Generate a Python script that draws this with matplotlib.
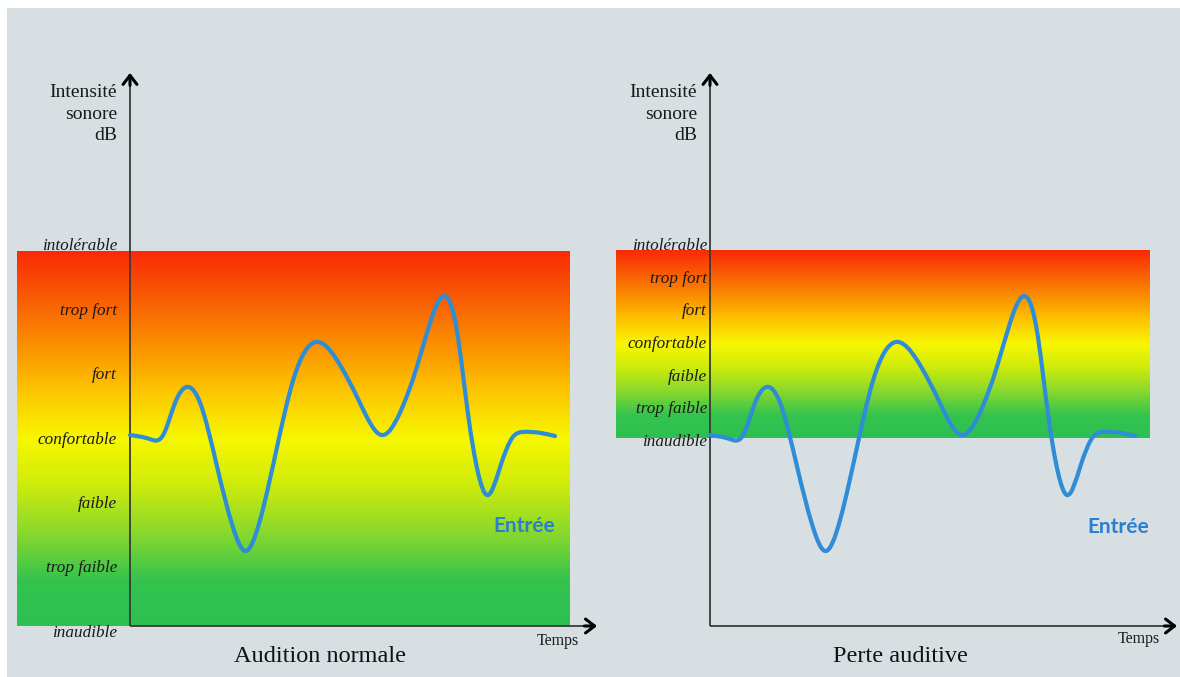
import numpy as np
import matplotlib
matplotlib.use("Agg")
import matplotlib.pyplot as plt
from matplotlib.colors import LinearSegmentedColormap
from matplotlib.patches import Rectangle, PathPatch
from matplotlib.path import Path

# ---------------- data ----------------
# input signal (time units, intensity in dB-like units)
signal_t = [0.0, 0.47, 0.78, 1.06, 1.34, 1.65, 2.05, 2.42, 2.71, 3.06, 3.46, 3.84,
            4.38, 4.87, 5.41, 5.93, 6.35, 6.75, 7.06, 7.34, 7.69, 7.95, 8.19, 8.40,
            8.71, 9.01, 9.25, 9.65, 10.0]
signal_db = [61.1, 59.8, 61.1, 71.4, 76.5, 71.4, 50.9, 31.7, 24.0, 33.9, 57.3, 78.7,
             90.9, 85.1, 71.4, 61.1, 68.2, 82.9, 97.0, 105.3, 94.7, 68.2, 49.0, 41.9,
             50.9, 60.5, 62.1, 61.8, 60.8]

levels = ["inaudible", "trop faible", "faible", "confortable", "fort", "trop fort", "intolérable"]
zone_normal = (0, 120)     # perception zone, normal hearing
zone_loss = (60, 120)      # perception zone, hearing loss
titles = ["Audition normale", "Perte auditive"]

# ---------------- style ----------------
W, H = 1180, 677
BG = "#d7dfe2"
CURVE = "#2f8cd6"
TXT_BLUE = "#2b7fd2"
SERIF = ["Liberation Serif", "DejaVu Serif"]

grad_cmap = LinearSegmentedColormap.from_list("zone", [
    (0.00, "#2dc052"), (0.12, "#34c34e"), (0.25, "#8ad92c"), (0.38, "#d0ec0a"),
    (0.50, "#f7f700"), (0.62, "#fdc800"), (0.75, "#fb9000"), (0.88, "#f85a04"),
    (1.00, "#fa2a06")])

fig = plt.figure(figsize=(W / 100, H / 100), dpi=100)
fig.patch.set_facecolor("white")
fig.patches.append(Rectangle((7 / W, 0), 1 - 7 / W, (H - 8) / H,
                             transform=fig.transFigure, facecolor=BG,
                             edgecolor="none", zorder=-10))


def smooth_path(x, y):
    """Natural cubic spline through the read points, drawn as Bezier segments."""
    x = np.asarray(x, float)
    y = np.asarray(y, float)
    n = len(x)
    h = np.diff(x)
    A = np.zeros((n, n))
    r = np.zeros(n)
    A[0, 0] = A[-1, -1] = 1.0
    for i in range(1, n - 1):
        A[i, i - 1] = h[i - 1]
        A[i, i] = 2 * (h[i - 1] + h[i])
        A[i, i + 1] = h[i]
        r[i] = 6 * ((y[i + 1] - y[i]) / h[i] - (y[i] - y[i - 1]) / h[i - 1])
    M = np.linalg.solve(A, r)
    m = np.zeros(n)
    for i in range(n - 1):
        m[i] = (y[i + 1] - y[i]) / h[i] - h[i] * (2 * M[i] + M[i + 1]) / 6
    m[-1] = (y[-1] - y[-2]) / h[-1] + h[-1] * (M[-2] + 2 * M[-1]) / 6
    verts = [(x[0], y[0])]
    codes = [Path.MOVETO]
    for i in range(n - 1):
        dx = h[i]
        verts += [(x[i] + dx / 3, y[i] + m[i] * dx / 3),
                  (x[i + 1] - dx / 3, y[i + 1] - m[i + 1] * dx / 3),
                  (x[i + 1], y[i + 1])]
        codes += [Path.CURVE4] * 3
    return Path(verts, codes)


def make_axes(px0, px1, py0, py1, origin_px):
    ax = fig.add_axes([px0 / W, 1 - py1 / H, (px1 - px0) / W, (py1 - py0) / H])
    ax.set_xlim((px0 - origin_px) / 42.5, (px1 - origin_px) / 42.5)
    ax.set_ylim((626 - py1) / 3.125, (626 - py0) / 3.125)
    ax.set_axis_off()
    ax.patch.set_visible(False)
    return ax


panels = [
    dict(ax=make_axes(0, 600, 60, 677, 130), zone=zone_normal, grad_x=(-2.66, 10.35),
         lab_x=-0.306, lab_base=(-3.5, 120.3), temps=(10.56, -6.1), entree=(10.0, 30.1)),
    dict(ax=make_axes(590, 1180, 60, 677, 710), zone=zone_loss, grad_x=(-2.21, 10.35),
         lab_x=-0.07, lab_base=(57.6, 120.3), temps=(10.59, -5.4), entree=(10.33, 29.8)),
]

for p, title in zip(panels, titles):
    ax = p["ax"]
    lo, hi = p["zone"]
    grad = np.linspace(0, 1, 256).reshape(-1, 1)
    ax.imshow(grad, cmap=grad_cmap, origin="lower", aspect="auto",
              extent=[p["grad_x"][0], p["grad_x"][1], lo, hi], zorder=1,
              interpolation="bilinear")

    # axes lines
    y_tip = 177.0
    x_tip = 10.99
    ax.plot([0, 0], [0, y_tip - 0.5], color="#3a3a3a", lw=1.3, zorder=3,
            solid_capstyle="butt")
    ax.plot([0, x_tip - 0.02], [0, 0], color="#3a3a3a", lw=1.3, zorder=3,
            solid_capstyle="butt")
    head = "->,head_length=0.65,head_width=0.5"
    ax.annotate("", xy=(0, y_tip), xytext=(0, y_tip - 4),
                arrowprops=dict(arrowstyle=head, lw=2.2, color="black",
                                shrinkA=0, shrinkB=0, mutation_scale=10), zorder=4)
    ax.annotate("", xy=(x_tip, 0), xytext=(x_tip - 0.3, 0),
                arrowprops=dict(arrowstyle=head, lw=2.2, color="black",
                                shrinkA=0, shrinkB=0, mutation_scale=10), zorder=4)

    # level labels
    for name, yb in zip(levels, np.linspace(p["lab_base"][0], p["lab_base"][1], len(levels))):
        ax.text(p["lab_x"], yb, name, ha="right", va="baseline", fontsize=12.3,
                style="italic", family=SERIF, color="#1a1a1a", zorder=5)

    ax.text(-0.306, 173.3, "Intensité\nsonore\ndB", ha="right", va="top",
            multialignment="right", fontsize=14, family=SERIF, color="#1a1a1a",
            linespacing=1.32, zorder=5)
    ax.text(p["temps"][0], p["temps"][1], "Temps", ha="right", va="baseline",
            fontsize=11.5, family=SERIF, color="#1a1a1a", zorder=5)
    ax.text(4.48, -11.6, title, ha="center", va="baseline", fontsize=17.5,
            family=SERIF, color="#111111", zorder=5)
    ax.text(p["entree"][0], p["entree"][1], "Entrée", ha="right", va="baseline",
            fontsize=15, fontweight="bold", family=["Lato", "DejaVu Sans"],
            color=TXT_BLUE, zorder=5)

    patch = PathPatch(smooth_path(signal_t, signal_db), facecolor="none",
                      edgecolor=CURVE, lw=3.0, capstyle="round", joinstyle="round",
                      zorder=6)
    ax.add_patch(patch)

fig.savefig("out.png", dpi=100, facecolor=fig.get_facecolor())
